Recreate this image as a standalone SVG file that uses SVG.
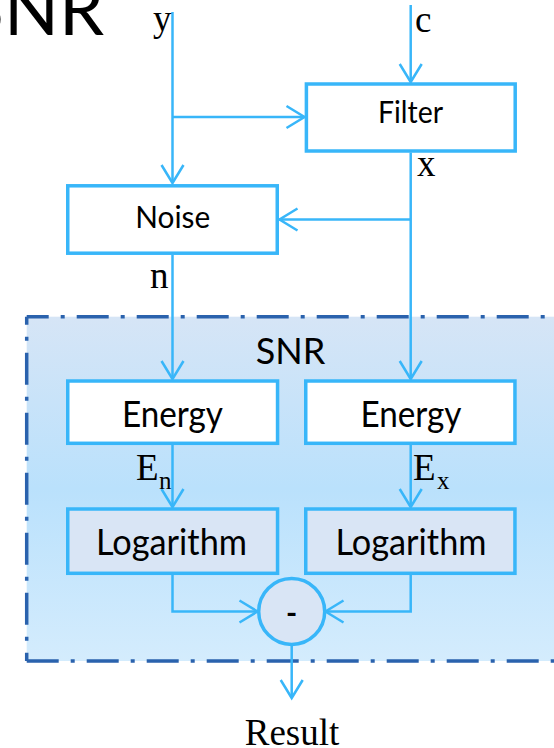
<svg xmlns="http://www.w3.org/2000/svg" width="554" height="748" viewBox="0 0 554 748">
<defs>
<linearGradient id="bg" x1="0" y1="0" x2="0" y2="1">
<stop offset="0" stop-color="#D6E5F6"/>
<stop offset="0.5" stop-color="#BAE1FC"/>
<stop offset="1" stop-color="#D4ECFD"/>
</linearGradient>
<marker id="arr" markerUnits="userSpaceOnUse" markerWidth="24" markerHeight="28" viewBox="-20 -14 24 28" refX="0" refY="0" orient="auto">
<path d="M -18 -11 L 0 0 L -18 11" fill="none" stroke="#38B6F9" stroke-width="2.5"/>
</marker>
</defs>
<style>
.box{fill:#FFFFFF;stroke:#38B6F9;stroke-width:3.5}
.log{fill:#D9E5F5;stroke:#38B6F9;stroke-width:3.5}
.ln{fill:none;stroke:#38B6F9;stroke-width:2.5;marker-end:url(#arr)}
.dd{stroke:#2A62AD;stroke-width:3.5;stroke-dasharray:32 12 4 12;fill:none}
.lbl{font-family:"Liberation Serif",serif;font-size:37px;fill:#000}
.sm{font-family:"Lato","Liberation Sans",sans-serif;font-size:30px;fill:#000;text-anchor:middle}
.big{font-family:"Lato","Liberation Sans",sans-serif;font-size:36px;fill:#000;text-anchor:middle}
</style>
<text x="104" y="35" font-family="Lato, 'Liberation Sans', sans-serif" font-size="72" text-anchor="end" fill="#000">SNR</text>
<g id="snr-group">
<rect x="26.7" y="316.7" width="540" height="344.3" fill="url(#bg)"/>
<line class="dd" x1="26.7" y1="316.7" x2="566" y2="316.7" stroke-dashoffset="10"/>
<line class="dd" x1="26.7" y1="316.7" x2="26.7" y2="661" stroke-dashoffset="24"/>
<line class="dd" x1="26.7" y1="661" x2="566" y2="661"/>
<text class="big" x="290.5" y="364" font-size="34">SNR</text>
</g>
<g id="connectors">
<line class="ln" x1="172.5" y1="12" x2="172.5" y2="183"/>
<line class="ln" x1="172.5" y1="117" x2="304.5" y2="117"/>
<line class="ln" x1="410.7" y1="5" x2="410.7" y2="82"/>
<line class="ln" x1="410.7" y1="152.5" x2="410.7" y2="379"/>
<line class="ln" x1="410.7" y1="219.5" x2="279.5" y2="219.5"/>
<line class="ln" x1="172.5" y1="255" x2="172.5" y2="379"/>
<line class="ln" x1="172.5" y1="445" x2="172.5" y2="507"/>
<line class="ln" x1="410.7" y1="445" x2="410.7" y2="507"/>
<polyline class="ln" points="172.5,575 172.5,611.5 257.5,611.5"/>
<polyline class="ln" points="410.7,575 410.7,611.5 325.5,611.5"/>
<line class="ln" x1="291.7" y1="646" x2="291.7" y2="698"/>
</g>
<g id="labels">
<text class="lbl" x="153" y="31">y</text>
<text class="lbl" x="415" y="32">c</text>
<text class="lbl" x="417" y="176">x</text>
<text class="lbl" x="150" y="288">n</text>
<text class="lbl" x="136" y="480">E<tspan font-size="25" x="159" y="489">n</tspan></text>
<text class="lbl" x="413" y="480">E<tspan font-size="25" x="437" y="489">x</tspan></text>
<text class="lbl" x="292" y="745" text-anchor="middle">Result</text>
</g>
<g id="filter">
<rect class="box" x="306.4" y="84" width="208.8" height="67"/>
<text class="sm" x="410.5" y="123" textLength="65" lengthAdjust="spacingAndGlyphs">Filter</text>
</g>
<g id="noise">
<rect class="box" x="67.75" y="185.8" width="209.5" height="67.4"/>
<text class="sm" x="172.7" y="228" textLength="75" lengthAdjust="spacingAndGlyphs">Noise</text>
</g>
<g id="energy-n">
<rect class="box" x="67.75" y="381" width="209.8" height="62.3"/>
<text class="big" x="172.5" y="427" textLength="101" lengthAdjust="spacingAndGlyphs">Energy</text>
</g>
<g id="energy-x">
<rect class="box" x="305.75" y="381" width="209.2" height="62.3"/>
<text class="big" x="411" y="427" textLength="101" lengthAdjust="spacingAndGlyphs">Energy</text>
</g>
<g id="log-n">
<rect class="log" x="67.75" y="509" width="209.8" height="64.3"/>
<text class="big" x="171.5" y="555" textLength="151" lengthAdjust="spacingAndGlyphs">Logarithm</text>
</g>
<g id="log-x">
<rect class="log" x="305.75" y="509" width="209.2" height="64.3"/>
<text class="big" x="411" y="555" textLength="151" lengthAdjust="spacingAndGlyphs">Logarithm</text>
</g>
<g id="minus">
<circle cx="291.7" cy="611.5" r="33" fill="#D9E5F5" stroke="#38B6F9" stroke-width="3.5"/>
<text x="291.7" y="624" font-family="Lato, 'Liberation Sans', sans-serif" font-size="30" font-weight="bold" text-anchor="middle" fill="#000">-</text>
</g>
</svg>
